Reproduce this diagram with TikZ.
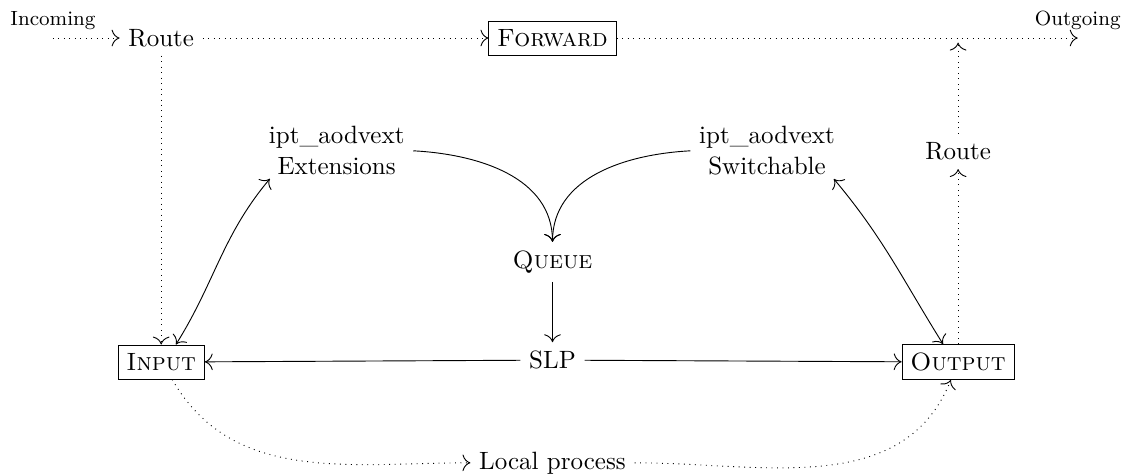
\documentclass[11pt,tikz,border=0pt]{standalone}
\usetikzlibrary{positioning,arrows.meta}

\begin{document}
\begin{tikzpicture}[>={To[scale=1.4]}, box/.style={draw}, flow/.style={->,dotted}, link/.style={->}, tag/.style={font=\footnotesize}]

\useasboundingbox (0,0) rectangle (17.354,-7.277);

\coordinate[label={[tag]above:Incoming}] (in) at (0.815,-0.585);
\node (routeA) at (2.48,-0.585) {Route};
\node[box] (fwd) at (8.50,-0.585) {\textsc{Forward}};
\coordinate[label={[tag]above:Outgoing}] (out) at (16.58,-0.585);
\coordinate (join) at (14.74,-0.585);

\node[align=center] (ext) at (5.18,-2.32) {ipt\_aodvext\\Extensions};
\node[align=center] (sw) at (11.80,-2.32) {ipt\_aodvext\\Switchable};
\node (routeB) at (14.74,-2.33) {Route};
\node (queue) at (8.50,-4.03) {\textsc{Queue}};
\node (slp) at (8.50,-5.54) {SLP};
\node[box] (inp) at (2.48,-5.57) {\textsc{Input}};
\node[box] (outp) at (14.74,-5.57) {\textsc{Output}};
\node (local) at (8.50,-7.12) {Local process};

\draw[flow] (in) -- (routeA);
\draw[flow] (routeA) -- (fwd);
\draw[flow] (fwd) -- (out);
\draw[flow] (routeA) -- (inp);
\draw[flow] (outp) -- (routeB);
\draw[flow,shorten >=2pt] (routeB) -- (join);
\draw[flow] (inp.south) ++(0.17,0) coordinate (inpS) (inpS) to[out=-60,in=180] (local);
\draw[flow] (local) to[out=0,in=-112] (outp.248);

\draw[link] (ext.east) to[out=-3,in=90] (queue.north);
\draw[link] (sw.west) to[out=183,in=90] (queue.north);
\draw[link] (queue) -- (slp);
\draw[link] (slp) -- (inp);
\draw[link] (slp) -- (outp);
\draw[<->] (inp.50) to[out=58,in=230] ([shift={(0.15,0.08)}]ext.south west);
\draw[<->] (outp.130) to[out=122,in=-50] ([shift={(-0.15,0.08)}]sw.south east);

\end{tikzpicture}
\end{document}
